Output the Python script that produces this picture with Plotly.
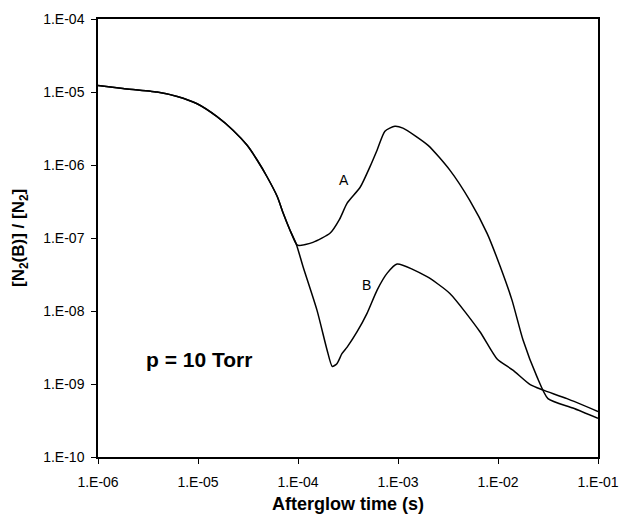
import plotly.graph_objects as go

# Shared early part of both curves (time in s, ratio)
t_common = [1e-6, 1.78e-6, 3.9e-6, 6.2e-6, 9.8e-6, 1.55e-5, 2.24e-5, 3.1e-5,
            3.9e-5, 4.9e-5, 6.2e-5, 7.1e-5, 8.3e-5, 9.6e-5]
y_common = [1.23e-5, 1.12e-5, 1.0e-5, 8.7e-6, 6.9e-6, 4.6e-6, 3.0e-6, 1.86e-6,
            1.17e-6, 6.9e-7, 3.7e-7, 2.2e-7, 1.29e-7, 8.3e-8]

# Curve A after the split
t_A = [1.02e-4, 1.41e-4, 2.1e-4, 2.6e-4, 3.1e-4, 4.2e-4, 5.25e-4, 6.2e-4,
       7.4e-4, 9.3e-4, 1.12e-3, 2.0e-3, 3.3e-3, 5.2e-3, 7.8e-3, 1.05e-2,
       1.38e-2, 1.78e-2, 2.45e-2, 3.16e-2, 5.6e-2, 0.1]
y_A = [7.9e-8, 8.7e-8, 1.17e-7, 1.8e-7, 3.0e-7, 5.0e-7, 9.5e-7, 1.62e-6,
       2.9e-6, 3.4e-6, 3.2e-6, 1.86e-6, 8.5e-7, 3.3e-7, 1.15e-7, 4.1e-8,
       1.41e-8, 4.0e-9, 1.26e-9, 6.3e-10, 4.7e-10, 3.4e-10]

# Curve B after the split
t_B = [1.12e-4, 1.55e-4, 1.95e-4, 2.2e-4, 2.45e-4, 2.75e-4, 3.1e-4, 3.9e-4,
       4.9e-4, 6.2e-4, 7.8e-4, 9.8e-4, 1.95e-3, 3.3e-3, 6.6e-3, 9.8e-3,
       1.41e-2, 2.1e-2, 2.8e-2, 4.9e-2, 0.1]
y_B = [4.1e-8, 1.02e-8, 2.95e-9, 1.74e-9, 1.9e-9, 2.6e-9, 3.2e-9, 5.2e-9,
       9.3e-9, 1.95e-8, 3.3e-8, 4.4e-8, 2.95e-8, 1.74e-8, 5.2e-9, 2.2e-9,
       1.55e-9, 9.8e-10, 8.3e-10, 6.3e-10, 4.2e-10]

x_tickvals = [1e-6, 1e-5, 1e-4, 1e-3, 1e-2, 1e-1]
x_ticktext = ["1.E-06", "1.E-05", "1.E-04", "1.E-03", "1.E-02", "1.E-01"]
y_tickvals = [1e-10, 1e-9, 1e-8, 1e-7, 1e-6, 1e-5, 1e-4]
y_ticktext = ["1.E-10", "1.E-09", "1.E-08", "1.E-07", "1.E-06", "1.E-05", "1.E-04"]

FONT = "Liberation Sans, Arial, sans-serif"

fig = go.Figure()
fig.add_trace(go.Scatter(x=t_common + t_A, y=y_common + y_A, mode="lines",
                         line=dict(color="black", width=1.5, shape="spline", smoothing=0.6),
                         name="A"))
fig.add_trace(go.Scatter(x=t_common + t_B, y=y_common + y_B, mode="lines",
                         line=dict(color="black", width=1.5, shape="spline", smoothing=0.6),
                         name="B"))

fig.update_layout(
    width=620, height=516,
    margin=dict(l=98, r=22, t=19, b=59),
    paper_bgcolor="white", plot_bgcolor="white",
    showlegend=False,
    font=dict(family=FONT, color="black", size=14),
)
fig.update_xaxes(type="log", range=[-6, -1], tickvals=x_tickvals, ticktext=x_ticktext,
                 showgrid=False, zeroline=False, showline=True, linecolor="black",
                 linewidth=1.5, mirror=True, ticks="outside", ticklen=5,
                 tickcolor="black", tickfont=dict(size=14, family=FONT),
                 automargin=False, ticklabelstandoff=6)
fig.update_yaxes(type="log", range=[-10, -4], tickvals=y_tickvals, ticktext=y_ticktext,
                 showgrid=False, zeroline=False, showline=True, linecolor="black",
                 linewidth=1.5, mirror=True, ticks="outside", ticklen=5,
                 tickcolor="black", tickfont=dict(size=14, family=FONT),
                 automargin=False, ticklabelstandoff=4)

fig.add_annotation(x=-3.54, y=-6.205, xref="x", yref="y", text="A", showarrow=False,
                   font=dict(size=14, family=FONT))
fig.add_annotation(x=-3.32, y=-7.64, xref="x", yref="y", text="B", showarrow=False,
                   font=dict(size=14, family=FONT))
fig.add_annotation(x=-4.99, y=-8.67, xref="x", yref="y", text="<b>p = 10 Torr</b>",
                   showarrow=False, font=dict(size=21, family=FONT))

# Axis titles
fig.add_annotation(x=0.5, y=-0.08, xref="paper", yref="paper", xanchor="center",
                   yanchor="top", text="<b>Afterglow time (s)</b>", showarrow=False,
                   font=dict(size=18, family=FONT))
fig.add_annotation(x=-78 / 500, y=0.5, xref="paper", yref="paper", xanchor="center",
                   yanchor="middle", textangle=-90,
                   text="<b>[N<sub>2</sub>(B)] / [N<sub>2</sub>]</b>", showarrow=False,
                   font=dict(size=17, family=FONT))

fig.write_html("out.html")
